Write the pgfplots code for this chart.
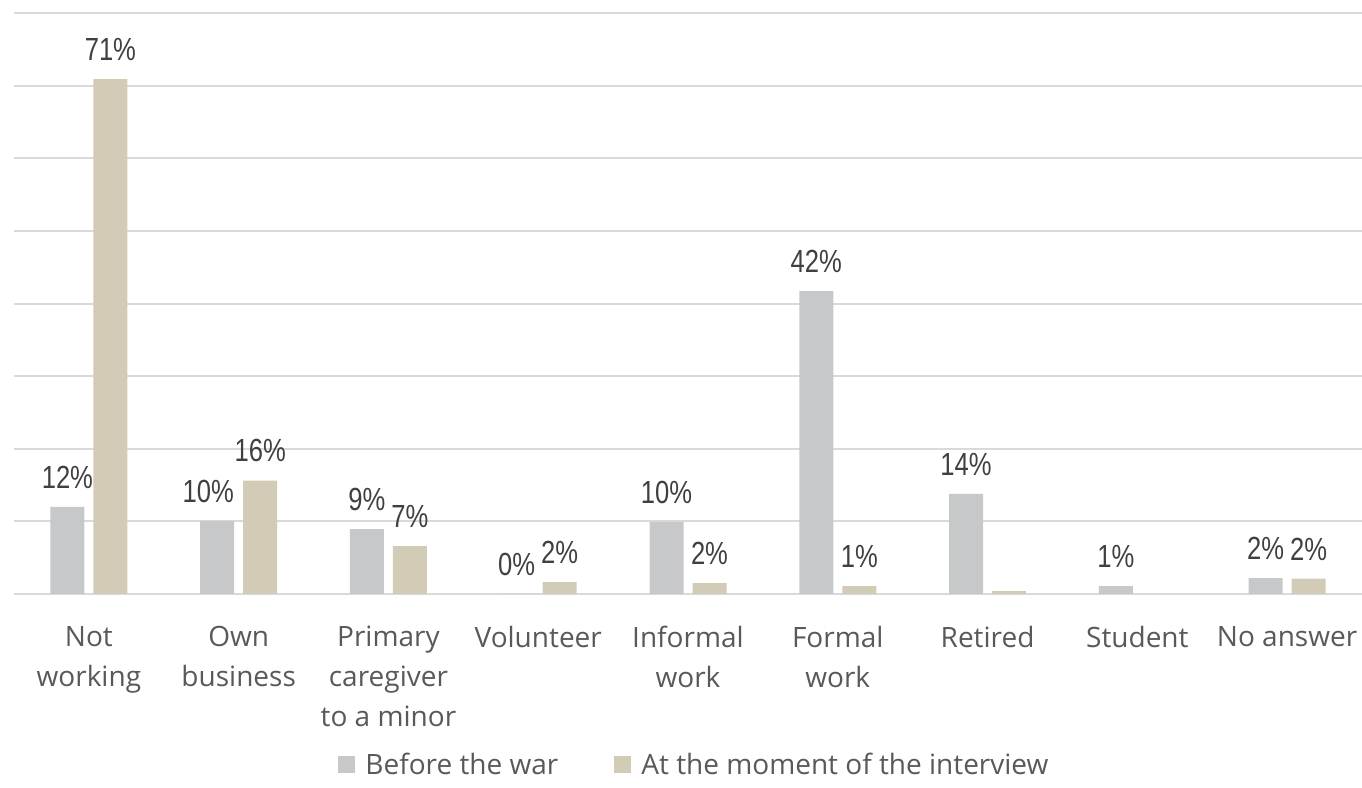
\documentclass[border=0pt]{standalone}
\usepackage{pgfplots}
\pgfplotsset{compat=1.18}
\usepackage{pgfplotstable}
\usepackage{fontspec}
\setmainfont{Open Sans}
\newfontfamily\labelfont[FakeStretch=0.8]{Liberation Sans}
\definecolor{cBefore}{RGB}{199,200,202}
\definecolor{cAt}{RGB}{210,203,182}
\definecolor{cGrid}{RGB}{217,217,217}
\definecolor{cTick}{RGB}{89,89,89}
\definecolor{cLab}{RGB}{64,64,64}

\pgfplotstableread{
x y lab dx
0 12.0 12 0
1 10.05 10 -4.5
2 8.95 9 0
3 0 0 0
4 9.9 10 0
5 41.7 42 0
6 13.8 14 0
7 1.1 1 0
8 2.2 2 0
}\before
\pgfplotstableread{
x y lab dx
0 70.9 71 0
1 15.6 16 0
2 6.6 7 0
3 1.65 2 0
4 1.5 2 0
5 1.1 1 0
8 2.1 2 0
}\atmoment
\pgfplotstableread{
x y lab dx
6 0.4 0 0
}\atextra

\begin{document}
\begin{tikzpicture}
\path[use as bounding box] (0,0) rectangle (681pt,394pt);
\begin{axis}[
  at={(7pt,97pt)}, anchor=south west,
  scale only axis,
  width=674pt, height=290.5pt,
  xmin=-0.5, xmax=8.5,
  ymin=0, ymax=80,
  ytick={0,10,...,80},
  yticklabels={},
  ymajorgrids,
  grid style={cGrid, line width=1pt},
  axis line style={draw=none},
  major tick length=0pt,
  xtick={0,...,8},
  xticklabels={{Not\\working},{Own\\business},{Primary\\caregiver\\to a minor},{Volunteer},{Informal\\work},{Formal\\work},{Retired},{Student},{No answer}},
  xticklabel style={font=\fontsize{14}{20}\selectfont, text=cTick, align=center, inner sep=0pt, anchor=north, yshift=-16pt},
  ybar,
  bar width=17pt,
  point meta=explicit symbolic,
  visualization depends on={\thisrow{dx} \as \dx},
  every node near coord/.append style={font=\labelfont\fontsize{16}{16}\selectfont, text=cLab, inner sep=0pt, yshift=9pt, xshift=\dx pt},
  legend columns=2,
  legend style={draw=none, fill=none, at={(0.2404,-0.2943)}, anchor=west, inner sep=0pt,
    font=\fontsize{14}{16}\selectfont, text=cTick,
    nodes={inner sep=0pt},
    /tikz/every odd column/.append style={column sep=5pt},
    /tikz/every even column/.append style={column sep=28pt}},
  legend image code/.code={\fill[#1,draw=none] (0pt,-4.25pt) rectangle (8.5pt,4.25pt);},
]
\addplot[fill=cBefore, draw=none, bar shift=-10.75pt, nodes near coords={\pgfplotspointmeta\%}] table[x=x, y=y, meta=lab] {\before};
\addlegendentry{Before the war}
\addplot[fill=cAt, draw=none, bar shift=10.75pt, nodes near coords={\pgfplotspointmeta\%}] table[x=x, y=y, meta=lab] {\atmoment};
\addlegendentry{At the moment of the interview}
\addplot[fill=cAt, draw=none, bar shift=10.75pt, forget plot] table[x=x, y=y, meta=lab] {\atextra};
\end{axis}
\end{tikzpicture}
\end{document}
